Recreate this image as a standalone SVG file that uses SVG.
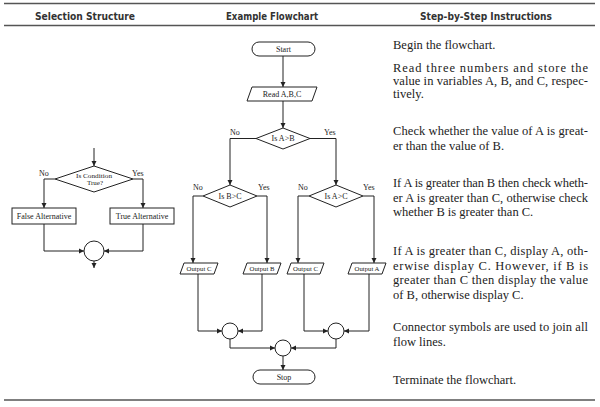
<svg xmlns="http://www.w3.org/2000/svg" width="600" height="407" viewBox="0 0 600 407">
<defs>
<marker id="ah" markerWidth="6" markerHeight="6" refX="5" refY="3" orient="auto" markerUnits="userSpaceOnUse"><path d="M0,0.5 L5,3 L0,5.5 z" fill="#222"/></marker>
<style>
.hdr{font-family:"DejaVu Sans Condensed","DejaVu Sans",sans-serif;font-weight:bold;font-size:11px;fill:#333}
.rule{stroke:#555;stroke-width:1.5}
.shape{fill:#fff;stroke:#222;stroke-width:1}
.lbl{font-family:"Liberation Serif","Times New Roman",serif;font-size:8px;fill:#222}
.sm{font-size:7px}
.c{text-anchor:middle}
#connectors path{fill:none;stroke:#222;stroke-width:1;marker-end:url(#ah)}
.body{font-family:"Liberation Serif","Times New Roman",serif;font-size:12.5px;fill:#222}
</style>
</defs>
<rect width="600" height="407" fill="#fff"/>

<g id="rules">
<line class="rule" x1="4" y1="3.5" x2="595" y2="3.5"/>
<line class="rule" x1="4" y1="25.5" x2="595" y2="25.5"/>
<line class="rule" x1="4" y1="400" x2="595" y2="400"/>
</g>
<g id="headers">
<text class="hdr" x="35" y="20" textLength="100" lengthAdjust="spacingAndGlyphs">Selection Structure</text>
<text class="hdr" x="226" y="20" textLength="92" lengthAdjust="spacingAndGlyphs">Example Flowchart</text>
<text class="hdr" x="420" y="20" textLength="132" lengthAdjust="spacingAndGlyphs">Step-by-Step Instructions</text>
</g>

<g id="connectors">
<path d="M94,148 V166"/>
<path d="M55,179 H44 V208"/>
<path d="M133,179 H143 V208"/>
<path d="M44,224 V251 H84"/>
<path d="M143,224 V251 H104"/>
<path d="M94,261 V268"/>
<path d="M283,56 V87"/>
<path d="M283,101 V128"/>
<path d="M256,138.5 H230 V185"/>
<path d="M310,138.5 H336 V185"/>
<path d="M203,196 H193 V263"/>
<path d="M257,196 H267 V263"/>
<path d="M309,196 H298 V263"/>
<path d="M363,196 H374 V263"/>
<path d="M198,274 V331 H222"/>
<path d="M262,274 V331 H238"/>
<path d="M304,274 V331 H328"/>
<path d="M369,274 V331 H344"/>
<path d="M230,339 V348 H275"/>
<path d="M336,339 V348 H291"/>
<path d="M283,356 V370"/>
</g>

<g id="sel-decision">
<polygon class="shape" points="94,166 133,179 94,192 55,179"/>
<text class="lbl sm c" x="94" y="177.5" textLength="36" lengthAdjust="spacingAndGlyphs">Is Condition</text>
<text class="lbl sm c" x="95" y="185">True?</text>
<text class="lbl" x="39" y="176">No</text>
<text class="lbl" x="132" y="176">Yes</text>
</g>
<g id="sel-false">
<rect class="shape" x="12" y="208" width="64" height="16"/>
<text class="lbl c" x="44" y="219">False Alternative</text>
</g>
<g id="sel-true">
<rect class="shape" x="110" y="208" width="64" height="16"/>
<text class="lbl c" x="142" y="219">True Alternative</text>
</g>
<g id="sel-connector">
<circle class="shape" cx="94" cy="251" r="10"/>
</g>

<g id="fc-start">
<rect class="shape" x="252" y="42" width="63" height="14" rx="7"/>
<text class="lbl c" x="283.5" y="52">Start</text>
</g>
<g id="fc-read">
<polygon class="shape" points="252,87 317,87 312,101 247,101"/>
<text class="lbl c" x="282" y="97">Read A,B,C</text>
</g>
<g id="fc-a-gt-b">
<polygon class="shape" points="283,128 310,138.5 283,149 256,138.5"/>
<text class="lbl c" x="283" y="141">Is A&gt;B</text>
<text class="lbl" x="230" y="135">No</text>
<text class="lbl" x="324" y="135">Yes</text>
</g>
<g id="fc-b-gt-c">
<polygon class="shape" points="230,185 257,196 230,207 203,196"/>
<text class="lbl c" x="230" y="199">Is B&gt;C</text>
<text class="lbl" x="193" y="190">No</text>
<text class="lbl" x="258" y="190">Yes</text>
</g>
<g id="fc-a-gt-c">
<polygon class="shape" points="336,185 363,196 336,207 309,196"/>
<text class="lbl c" x="336" y="199">Is A&gt;C</text>
<text class="lbl" x="298" y="190">No</text>
<text class="lbl" x="363" y="190">Yes</text>
</g>
<g id="fc-out-c1">
<polygon class="shape" points="184,263 218,263 214,274 180,274"/>
<text class="lbl sm c" x="199" y="271" textLength="25" lengthAdjust="spacingAndGlyphs">Output C</text>
</g>
<g id="fc-out-b">
<polygon class="shape" points="247,263 281,263 277,274 243,274"/>
<text class="lbl sm c" x="262" y="271" textLength="25" lengthAdjust="spacingAndGlyphs">Output B</text>
</g>
<g id="fc-out-c2">
<polygon class="shape" points="291,263 324,263 320,274 287,274"/>
<text class="lbl sm c" x="305.5" y="271" textLength="25" lengthAdjust="spacingAndGlyphs">Output C</text>
</g>
<g id="fc-out-a">
<polygon class="shape" points="352,263 386,263 382,274 348,274"/>
<text class="lbl sm c" x="367" y="271" textLength="25" lengthAdjust="spacingAndGlyphs">Output A</text>
</g>
<g id="fc-conn-left"><circle class="shape" cx="230" cy="331" r="8"/></g>
<g id="fc-conn-right"><circle class="shape" cx="336" cy="331" r="8"/></g>
<g id="fc-conn-mid"><circle class="shape" cx="283" cy="348" r="8"/></g>
<g id="fc-stop">
<rect class="shape" x="253" y="370" width="62" height="14" rx="7"/>
<text class="lbl c" x="284" y="380">Stop</text>
</g>

<g id="instructions" class="body">
<text x="393" y="49">Begin the flowchart.</text>
<text x="393" y="72" textLength="195" lengthAdjust="spacing">Read three numbers and store the</text>
<text x="393" y="85" textLength="195" lengthAdjust="spacing">value in variables A, B, and C, respec-</text>
<text x="393" y="98">tively.</text>
<text x="393" y="135" textLength="195" lengthAdjust="spacing">Check whether the value of A is great-</text>
<text x="393" y="150">er than the value of B.</text>
<text x="393" y="187" textLength="195" lengthAdjust="spacing">If A is greater than B then check wheth-</text>
<text x="393" y="201.5" textLength="195" lengthAdjust="spacing">er A is greater than C, otherwise check</text>
<text x="393" y="216">whether B is greater than C.</text>
<text x="393" y="255" textLength="195" lengthAdjust="spacing">If A is greater than C, display A, oth-</text>
<text x="393" y="269.5" textLength="195" lengthAdjust="spacing">erwise display C. However, if B is</text>
<text x="393" y="284" textLength="195" lengthAdjust="spacing">greater than C then display the value</text>
<text x="393" y="298.5">of B, otherwise display C.</text>
<text x="393" y="331" textLength="195" lengthAdjust="spacing">Connector symbols are used to join all</text>
<text x="393" y="345.5">flow lines.</text>
<text x="393" y="384">Terminate the flowchart.</text>
</g>
</svg>
